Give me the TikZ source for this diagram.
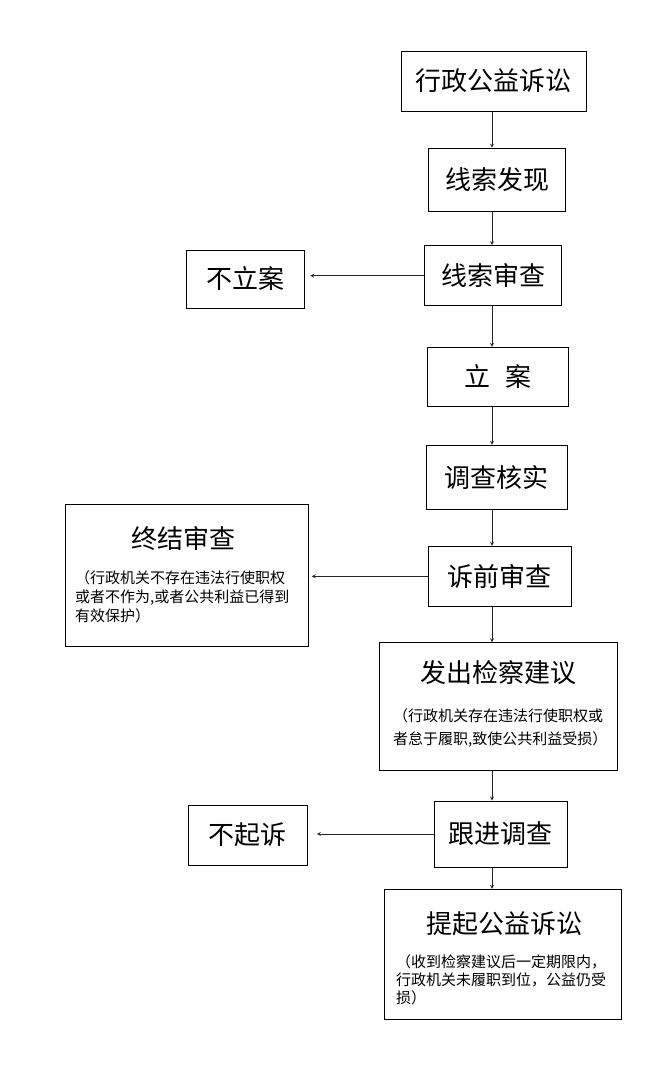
\documentclass[tikz,border=0pt]{standalone}
\usepackage{fontspec}
\setmainfont{Noto Sans CJK SC}
\newcommand{\ttl}{\fontsize{26}{30}\selectfont}
\begin{document}
\begin{tikzpicture}[x=1pt,y=-1pt,
  box/.style={draw,line width=1pt,inner sep=0pt,font=\ttl},
  note/.style={inner sep=0pt,align=left,anchor=west},
  arr/.style={line width=0.8pt,black!85,-stealth}]
  \useasboundingbox (0,0) rectangle (653,1080);
  % main column
  \node[box,minimum width=185pt,minimum height=60pt] (gov) at (493.5,81) {行政公益诉讼};
  \node[box,minimum width=137pt,minimum height=63pt] (find) at (497,179.7) {线索发现};
  \node[box,minimum width=137pt,minimum height=60pt] (check) at (493,275.7) {线索审查};
  \node[box,minimum width=141pt,minimum height=59pt] (reg) at (498,376.8) {立\hspace{0.6em}案};
  \node[box,minimum width=141pt,minimum height=64pt] (inv) at (496.8,477.3) {调查核实};
  \node[box,minimum width=143pt,minimum height=60pt] (pre) at (499.8,576.3) {诉前审查};
  \node[box,minimum width=238pt,minimum height=128pt] (adv) at (498.7,706.8) {};
  \node[font=\ttl,inner sep=0pt] (advT) at (498.7,673) {发出检察建议};
  \node[note,font={\fontsize{15}{23}\selectfont}] (advS) at (393,728.3) {（行政机关存在违法行使职权或\\者怠于履职,致使公共利益受损）};
  \node[box,minimum width=133pt,minimum height=66pt] (follow) at (500.8,834) {跟进调查};
  \node[box,minimum width=237pt,minimum height=130pt] (sue) at (503,954.3) {};
  \node[font=\ttl,inner sep=0pt] (sueT) at (504,924) {提起公益诉讼};
  \node[note,font={\fontsize{15}{18}\selectfont}] (sueS) at (396,980) {（收到检察建议后一定期限内，\\行政机关未履职到位，公益仍受\\损）};
  % side boxes
  \node[box,minimum width=118pt,minimum height=58pt] (noreg) at (245.7,279) {不立案};
  \node[box,minimum width=243pt,minimum height=142pt] (end) at (186.7,575.8) {};
  \node[font=\ttl,inner sep=0pt] (endT) at (183.3,539) {终结审查};
  \node[note,font={\fontsize{15}{19}\selectfont}] (endS) at (75,596.5) {（行政机关不存在违法行使职权\\或者不作为,或者公共利益已得到\\有效保护）};
  \node[box,minimum width=119pt,minimum height=60pt] (nosue) at (247.8,835) {不起诉};
  % arrows
  \coordinate (spine) at (492,0);
  \draw[arr] (spine |- gov.south) -- (spine |- find.north);
  \draw[arr] (spine |- find.south) -- (spine |- check.north);
  \draw[arr] (spine |- check.south) -- (spine |- reg.north);
  \draw[arr] (spine |- reg.south) -- (spine |- inv.north);
  \draw[arr] (spine |- inv.south) -- (spine |- pre.north);
  \draw[arr] (spine |- pre.south) -- (spine |- adv.north);
  \draw[arr] (spine |- adv.south) -- (spine |- follow.north);
  \draw[arr] (spine |- follow.south) -- (spine |- sue.north);
  \draw[arr,shorten >=5pt] (check.west) -- (check.west -| noreg.east);
  \draw[arr,shorten >=3pt] (pre.west) -- (pre.west -| end.east);
  \draw[arr,shorten >=9pt] (follow.west) -- (follow.west -| nosue.east);
\end{tikzpicture}
\end{document}
